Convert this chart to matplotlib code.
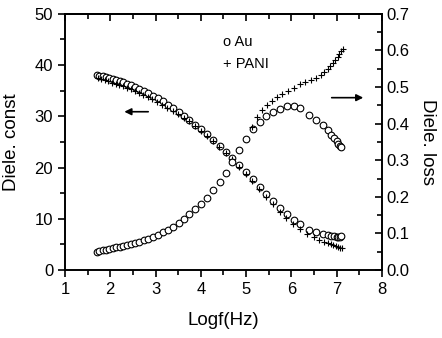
import numpy as np
import matplotlib
matplotlib.use('Agg')
import matplotlib.pyplot as plt

plt.rcParams['font.family'] = ['Liberation Sans', 'DejaVu Sans']

# Au: dielectric constant and loss vs log f
logf_au = [1.70, 1.76, 1.83, 1.90, 1.97, 2.05, 2.13, 2.21, 2.29, 2.37,
           2.46, 2.55, 2.64, 2.74, 2.84, 2.94, 3.05, 3.16, 3.27, 3.39,
           3.51, 3.63, 3.75, 3.88, 4.01, 4.14, 4.28, 4.42, 4.56, 4.70,
           4.85, 5.00, 5.15, 5.30, 5.45, 5.60, 5.75, 5.90, 6.05, 6.20,
           6.40, 6.55, 6.70, 6.80, 6.88, 6.95, 7.00, 7.04, 7.08, 7.10]
const_au = [38.0, 37.9, 37.8, 37.6, 37.5, 37.3, 37.1, 36.9, 36.7, 36.4,
            36.1, 35.8, 35.4, 35.0, 34.5, 34.0, 33.5, 32.9, 32.3, 31.6,
            30.9, 30.1, 29.3, 28.4, 27.5, 26.5, 25.4, 24.3, 23.1, 21.9,
            20.5, 19.1, 17.7, 16.2, 14.8, 13.4, 12.1, 10.9, 9.8, 8.9,
            7.9, 7.4, 7.0, 6.8, 6.7, 6.6, 6.5, 6.5, 6.4, 6.6]
loss_au = [0.050, 0.052, 0.054, 0.056, 0.058, 0.060, 0.062, 0.064, 0.066, 0.068,
           0.071, 0.074, 0.077, 0.081, 0.085, 0.090, 0.096, 0.103, 0.110, 0.119,
           0.128, 0.139, 0.152, 0.166, 0.181, 0.198, 0.218, 0.240, 0.265, 0.295,
           0.328, 0.358, 0.385, 0.405, 0.422, 0.433, 0.441, 0.447, 0.448, 0.442,
           0.425, 0.410, 0.395, 0.383, 0.370, 0.360, 0.352, 0.345, 0.340, 0.336]

# PANI: dielectric constant
logf_pani = [1.72, 1.80, 1.88, 1.96, 2.04, 2.12, 2.20, 2.28, 2.36, 2.45,
             2.54, 2.63, 2.73, 2.83, 2.93, 3.04, 3.15, 3.26, 3.38, 3.50,
             3.62, 3.74, 3.87, 4.00, 4.13, 4.27, 4.41, 4.55, 4.69, 4.84,
             4.99, 5.14, 5.29, 5.44, 5.59, 5.74, 5.89, 6.04, 6.19, 6.35,
             6.50, 6.62, 6.72, 6.80, 6.87, 6.93, 6.98, 7.03, 7.07, 7.11]
const_pani = [37.4, 37.2, 37.0, 36.8, 36.6, 36.4, 36.1, 35.9, 35.6, 35.3,
              35.0, 34.6, 34.2, 33.8, 33.3, 32.8, 32.3, 31.7, 31.1, 30.4,
              29.7, 29.0, 28.1, 27.2, 26.2, 25.1, 24.0, 22.8, 21.6, 20.2,
              18.8, 17.3, 15.8, 14.3, 12.8, 11.4, 10.1, 9.0, 8.0, 7.1,
              6.4, 5.9, 5.5, 5.2, 5.0, 4.8, 4.7, 4.5, 4.4, 4.3]

# PANI: dielectric loss (high-frequency part)
logf_pani_loss = [5.14, 5.25, 5.36, 5.47, 5.58, 5.69, 5.80, 5.93, 6.06, 6.19,
                  6.31, 6.43, 6.55, 6.65, 6.73, 6.80, 6.86, 6.92, 6.97, 7.02,
                  7.06, 7.10, 7.13]
loss_pani = [0.392, 0.419, 0.436, 0.450, 0.463, 0.472, 0.480, 0.489, 0.497, 0.508,
             0.514, 0.520, 0.526, 0.533, 0.541, 0.549, 0.557, 0.566, 0.574, 0.583,
             0.591, 0.599, 0.605]

fig = plt.figure(figsize=(4.42, 3.38), dpi=100)
ax1 = fig.add_axes([0.147, 0.201, 0.717, 0.758])
ax2 = ax1.twinx()

mk = dict(linestyle='none', color='black')
ax1.plot(logf_au, const_au, marker='o', markersize=4.8, markerfacecolor='white',
         markeredgewidth=0.8, **mk)
ax1.plot(logf_pani, const_pani, marker='+', markersize=5, markeredgewidth=0.8, **mk)
ax2.plot(logf_au, loss_au, marker='o', markersize=4.8, markerfacecolor='white',
         markeredgewidth=0.8, **mk)
ax2.plot(logf_pani_loss, loss_pani, marker='+', markersize=5, markeredgewidth=0.8, **mk)

ax1.set_xlim(1, 8)
ax1.set_ylim(0, 50)
ax2.set_ylim(0, 0.7)
ax1.set_xticks(np.arange(1, 9, 1))
ax1.set_xticks(np.arange(1.5, 8, 1), minor=True)
ax1.set_yticks(np.arange(0, 51, 10))
ax1.set_yticks(np.arange(5, 50, 10), minor=True)
ax2.set_yticks(np.arange(0, 0.71, 0.1))
ax2.set_yticks(np.arange(0.05, 0.7, 0.1), minor=True)
ax2.set_yticklabels(['%.1f' % v for v in np.arange(0, 0.71, 0.1)])

# bottom/left ticks outward, top/right ticks inward
ax1.tick_params(which='both', direction='out', labelsize=12, width=1.2,
                top=False, right=False)
ax1.tick_params(which='major', length=5)
ax1.tick_params(which='minor', length=3.5)
top = ax1.secondary_xaxis('top')
top.set_xticks(np.arange(1, 9, 1))
top.set_xticks(np.arange(1.5, 8, 1), minor=True)
top.tick_params(which='both', direction='in', labeltop=False, width=1.2)
top.tick_params(which='major', length=5)
top.tick_params(which='minor', length=3.5)
top.spines['top'].set_linewidth(1.2)
ax2.tick_params(which='both', direction='in', labelsize=12, width=1.2)
ax2.tick_params(which='major', length=5)
ax2.tick_params(which='minor', length=3.5)
for ax in (ax1, ax2):
    for sp in ax.spines.values():
        sp.set_linewidth(1.2)

ax1.set_xlabel('Logf(Hz)', fontsize=13.5)
ax1.set_ylabel('Diele. const', fontsize=13.5)
ax2.set_ylabel('Diele. loss', fontsize=13.5, rotation=-90, va='center')
ax1.xaxis.set_label_coords(0.5, -0.165)
ax1.yaxis.set_label_coords(-0.142, 0.5)
ax2.yaxis.set_label_coords(1.145, 0.5)

ax1.text(4.5, 44.5, 'o Au', fontsize=10.5, va='center')
ax1.text(4.5, 40.2, '+ PANI', fontsize=10.5, va='center')

ax1.annotate('', xy=(2.25, 30.9), xytext=(2.9, 30.9),
             arrowprops=dict(arrowstyle='-|>', color='black', lw=1.2,
                             mutation_scale=10))
ax2.annotate('', xy=(7.65, 0.471), xytext=(6.83, 0.471),
             arrowprops=dict(arrowstyle='-|>', color='black', lw=1.2,
                             mutation_scale=10))

plt.savefig('out.png', dpi=100)
